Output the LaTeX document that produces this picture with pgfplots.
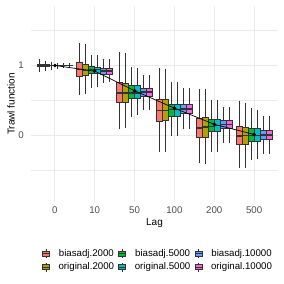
\documentclass[border=0pt]{standalone}
\usepackage{pgfplots}
\usepackage{pgfplotstable}
\pgfplotsset{compat=1.18}
\usepgfplotslibrary{statistics}
\usepackage{fontspec}
\setmainfont{Liberation Sans}

\definecolor{cR}{HTML}{F8766D}
\definecolor{cO}{HTML}{B79F00}
\definecolor{cG}{HTML}{00BA38}
\definecolor{cC}{HTML}{00BFC4}
\definecolor{cB}{HTML}{619CFF}
\definecolor{cM}{HTML}{F564E3}
\definecolor{gray20}{HTML}{333333}
\definecolor{gridc}{HTML}{EBEBEB}
\definecolor{tickc}{HTML}{4D4D4D}

% biasadj.2000
\pgfplotstableread{
lw lq med uq uw
0.91 0.99 1.00 1.01 1.09
0.58 0.85 0.94 1.04 1.32
0.10 0.48 0.61 0.76 1.20
-0.23 0.20 0.36 0.51 0.96
-0.39 -0.02 0.11 0.25 0.66
-0.47 -0.13 -0.01 0.13 0.50
}\tA
% original.2000
\pgfplotstableread{
lw lq med uq uw
0.92 0.99 1.00 1.01 1.07
0.59 0.86 0.93 1.02 1.31
0.11 0.48 0.61 0.75 1.18
-0.23 0.21 0.36 0.51 0.95
-0.41 -0.02 0.12 0.26 0.67
-0.47 -0.12 0.00 0.12 0.47
}\tB
% biasadj.5000
\pgfplotstableread{
lw lq med uq uw
0.93 0.995 1.00 1.005 1.05
0.68 0.89 0.94 0.985 1.15
0.27 0.53 0.61 0.71 0.98
0.00 0.27 0.37 0.45 0.76
-0.23 0.06 0.13 0.23 0.51
-0.35 -0.08 0.00 0.10 0.39
}\tC
% original.5000
\pgfplotstableread{
lw lq med uq uw
0.95 0.995 1.00 1.005 1.04
0.70 0.89 0.94 0.98 1.15
0.29 0.53 0.61 0.71 0.97
-0.01 0.27 0.37 0.45 0.76
-0.23 0.06 0.14 0.23 0.51
-0.34 -0.08 0.00 0.10 0.37
}\tD
% biasadj.10000
\pgfplotstableread{
lw lq med uq uw
0.96 0.995 1.00 1.005 1.03
0.75 0.88 0.92 0.96 1.10
0.37 0.56 0.62 0.68 0.86
0.10 0.32 0.38 0.45 0.68
-0.11 0.105 0.16 0.21 0.41
-0.27 -0.06 0.01 0.07 0.28
}\tE
% original.10000
\pgfplotstableread{
lw lq med uq uw
0.96 0.995 1.00 1.005 1.03
0.77 0.88 0.92 0.96 1.10
0.37 0.56 0.62 0.68 0.86
0.10 0.32 0.38 0.45 0.68
-0.10 0.105 0.16 0.21 0.41
-0.26 -0.06 0.01 0.07 0.28
}\tF

% one box from row #2 of table #1, colour #3, position #4
\newcommand{\bxp}[4]{%
  \pgfplotstablegetelem{#2}{lw}\of#1\let\vlw\pgfplotsretval
  \pgfplotstablegetelem{#2}{lq}\of#1\let\vlq\pgfplotsretval
  \pgfplotstablegetelem{#2}{med}\of#1\let\vmed\pgfplotsretval
  \pgfplotstablegetelem{#2}{uq}\of#1\let\vuq\pgfplotsretval
  \pgfplotstablegetelem{#2}{uw}\of#1\let\vuw\pgfplotsretval
  \pgfmathsetmacro{\vpos}{#4}%
  \edef\tmp{\noexpand\addplot[forget plot, draw=gray20, fill=#3,
    boxplot prepared={draw direction=y, draw position=\vpos, lower whisker=\vlw, lower quartile=\vlq,
      median=\vmed, upper quartile=\vuq, upper whisker=\vuw,
      box extend=0.15, whisker extend=0}] coordinates {};}%
  \tmp}

\begin{document}
\begin{tikzpicture}
\useasboundingbox (0,0) rectangle (284pt,284pt);
\begin{axis}[
  at={(31pt,82pt)}, anchor=south west,
  scale only axis, width=247pt, height=196pt,
  xmin=0.4, xmax=6.6, ymin=-0.95, ymax=1.85,
  axis line style={draw=none},
  major tick length=0pt, minor tick length=0pt,
  xtick={1,2,3,4,5,6}, xticklabels={0,10,50,100,200,500},
  ytick={0,1}, yticklabels={0,1},
  minor ytick={-0.5,0.5,1.5},
  grid=both,
  major grid style={gridc, line width=0.9pt},
  minor grid style={gridc, line width=0.5pt},
  ticklabel style={font=\fontsize{9.7}{11}\selectfont, text=tickc},
  xticklabel style={anchor=north, inner sep=0pt, yshift=-5pt},
  yticklabel style={anchor=east, inner sep=0pt, xshift=-7pt},
  xlabel={Lag}, ylabel={Trawl function},
  label style={font=\fontsize{12.4}{14}\selectfont},
  every axis x label/.style={at={(axis description cs:0.5,0)}, anchor=north, inner sep=0pt, yshift=-16.5pt},
  every axis y label/.style={at={(axis description cs:0,0.5)}, rotate=90, anchor=south, inner sep=0pt, yshift=16pt},
  boxplot/every median/.style={line width=1.5pt, draw=gray20},
  boxplot/every box/.style={line width=0.8pt},
  boxplot/every whisker/.style={line width=1pt},
  legend image code/.code={
    \draw[gray20, line width=0.6pt] (0pt,-4.5pt) -- (0pt,-2.5pt) (0pt,2.5pt) -- (0pt,4.5pt);
    \draw[#1, draw=gray20, line width=0.6pt] (-3.5pt,-2.5pt) rectangle (3.5pt,2.5pt);
    \draw[gray20, line width=0.9pt] (-3.5pt,0pt) -- (3.5pt,0pt);
  },
  legend columns=3,
  legend style={draw=none, fill=none, at={(0.51,-0.297)}, anchor=center,
    font=\fontsize{9.7}{11}\selectfont, inner sep=0pt, row sep=4pt,
    nodes={inner sep=0pt},
    /tikz/every odd column/.append style={column sep=8.8pt},
    /tikz/every even column/.append style={column sep=4pt}},
]
\addlegendimage{fill=cR}
\addlegendimage{fill=cG}
\addlegendimage{fill=cB}
\addlegendimage{fill=cO}
\addlegendimage{fill=cC}
\addlegendimage{fill=cM}

\pgfplotsinvokeforeach{0,...,5}{
  \bxp{\tA}{#1}{cR}{#1+1-0.375}
  \bxp{\tB}{#1}{cO}{#1+1-0.225}
  \bxp{\tC}{#1}{cG}{#1+1-0.075}
  \bxp{\tD}{#1}{cC}{#1+1+0.075}
  \bxp{\tE}{#1}{cB}{#1+1+0.225}
  \bxp{\tF}{#1}{cM}{#1+1+0.375}
}

\addplot[forget plot, black, line width=0.7pt, mark=*, mark size=1.4pt] coordinates {
(1,1.00) (2,0.92) (3,0.64) (4,0.39) (5,0.16) (6,0.015)
};

\legend{biasadj.2000, biasadj.5000, biasadj.10000, original.2000, original.5000, original.10000}
\end{axis}
\end{tikzpicture}
\end{document}
